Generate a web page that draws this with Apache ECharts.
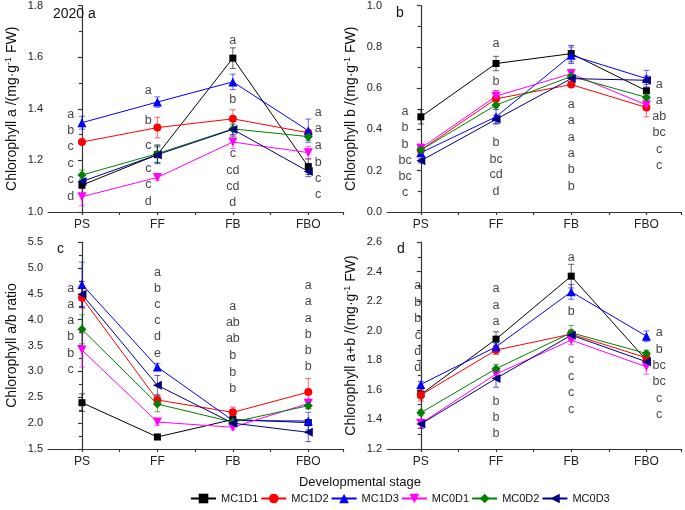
<!DOCTYPE html>
<html><head><meta charset="utf-8">
<script src="https://cdn.jsdelivr.net/npm/echarts@6/dist/echarts.min.js"></script>
<style>html,body{margin:0;padding:0;background:#fff}#c{width:685px;height:510px}</style>
</head><body><div id="c"></div><script>
const stages = ['PS', 'FF', 'FB', 'FBO'];
const seriesNames = ['MC1D1', 'MC1D2', 'MC1D3', 'MC0D1', 'MC0D2', 'MC0D3'];

// Panel a: Chlorophyll a (rows = series, cols = stages)
const chlA = [
  [1.104, 1.222, 1.596, 1.176],
  [1.271, 1.327, 1.361, 1.307],
  [1.346, 1.426, 1.504, 1.315],
  [1.059, 1.134, 1.271, 1.230],
  [1.143, 1.226, 1.322, 1.292],
  [1.118, 1.222, 1.320, 1.157]
];
const chlAErr = [
  [0.01, 0.03, 0.04, 0.03],
  [0.01, 0.04, 0.035, 0.01],
  [0.025, 0.02, 0.03, 0.045],
  [0.035, 0.01, 0.025, 0.025],
  [0.02, 0.035, 0.03, 0.015],
  [0.01, 0.035, 0.02, 0.02]
];
// Panel b: Chlorophyll b
const chlB = [
  [0.461, 0.719, 0.767, 0.587],
  [0.300, 0.548, 0.617, 0.506],
  [0.287, 0.461, 0.759, 0.646],
  [0.309, 0.561, 0.670, 0.518],
  [0.300, 0.518, 0.657, 0.555],
  [0.248, 0.449, 0.646, 0.638]
];
const chlBErr = [
  [0.035, 0.035, 0.04, 0.01],
  [0.01, 0.04, 0.01, 0.045],
  [0.015, 0.035, 0.04, 0.04],
  [0.02, 0.025, 0.02, 0.02],
  [0.01, 0.02, 0.035, 0.01],
  [0.01, 0.02, 0.02, 0.02]
];
// Panel c: Chlorophyll a/b ratio
const ratioAB = [
  [2.395, 1.732, 2.07, 2.01],
  [4.423, 2.447, 2.208, 2.60],
  [4.681, 3.084, 2.05, 2.04],
  [3.412, 2.022, 1.92, 2.38],
  [3.812, 2.369, 2.02, 2.337],
  [4.488, 2.730, 2.00, 1.822]
];
const ratioABErr = [
  [0.17, 0.05, 0.08, 0.05],
  [0.2, 0.1, 0.1, 0.26],
  [0.43, 0.07, 0.1, 0.17],
  [0.33, 0.07, 0.05, 0.1],
  [0.28, 0.15, 0.05, 0.06],
  [0.25, 0.19, 0.05, 0.18]
];
// Panel d: Chlorophyll a+b
const chlAB = [
  [1.569, 1.943, 2.369, 1.801],
  [1.565, 1.869, 1.977, 1.817],
  [1.637, 1.891, 2.263, 1.963],
  [1.373, 1.707, 1.936, 1.756],
  [1.445, 1.743, 1.986, 1.846],
  [1.369, 1.677, 1.970, 1.790]
];
const chlABErr = [
  [0.03, 0.05, 0.08, 0.03],
  [0.04, 0.03, 0.03, 0.03],
  [0.02, 0.02, 0.05, 0.035],
  [0.03, 0.03, 0.03, 0.05],
  [0.02, 0.03, 0.05, 0.02],
  [0.03, 0.06, 0.03, 0.02]
];

// Significance letters per stage (top to bottom) and their vertical positions
const lettersA = [['a','b','c','c','c','d'], ['a','b','c','c','c','d'], ['a','b','c','cd','cd','d'], ['a','a','a','b','c','c']];
const lettersAy = [[1.376,1.314,1.252,1.189,1.125,1.061], [1.472,1.356,1.257,1.170,1.105,1.041], [1.665,1.436,1.225,1.161,1.099,1.037], [1.385,1.322,1.257,1.193,1.131,1.069]];
const lettersB = [['a','b','b','bc','bc','c'], ['a','b','b','bc','cd','d'], ['a','a','a','a','b','b'], ['a','a','ab','bc','c','c']];
const lettersBy = [[0.486,0.408,0.328,0.248,0.170,0.095], [0.815,0.633,0.336,0.256,0.180,0.100], [0.521,0.442,0.362,0.281,0.204,0.124], [0.619,0.542,0.461,0.384,0.304,0.225]];
const lettersC = [['a','a','a','b','b','c'], ['a','b','c','c','d','e'], ['a','ab','ab','b','b','b'], ['a','a','a','b','b','b']];
const lettersCy = [[4.604,4.295,3.973,3.664,3.348,3.026], [4.913,4.604,4.295,3.973,3.664,3.348], [4.249,3.940,3.625,3.303,2.981,2.666], [4.655,4.346,4.024,3.702,3.393,3.084]];
const lettersD = [['a','b','b','c','d','d'], ['a','a','a','b','b','b'], ['a','b','c','c','c','c'], ['a','b','bc','bc','c','c']];
const lettersDy = [[2.304,2.193,2.081,1.970,1.858,1.750], [2.286,2.173,2.065,1.524,1.414,1.306], [2.495,2.128,1.806,1.693,1.583,1.470], [1.986,1.876,1.765,1.655,1.542,1.434]];

const FONT = '"Liberation Sans", Arial, sans-serif';
const colors = ['#000000', '#ff0000', '#0000ff', '#ff00ff', '#008000', '#000080'];
const symbols = ['rect', 'circle', 'triangle', 'triangle', 'diamond', 'triangle'];
const symbolRot = [0, 0, 0, 180, 0, 90];
const symbolSizes = [7, 8, 9, 9, 9, 9];

const panels = [
  { vals: chlA, errs: chlAErr, letters: lettersA, ly: lettersAy, dx: [-0.15, -0.12, 0, 0.13],
    min: 1.0, max: 1.8, interval: 0.2, name: '{n|Chlorophyll a /(mg·g}{s|-1}{n| FW)}' },
  { vals: chlB, errs: chlBErr, letters: lettersB, ly: lettersBy, dx: [-0.21, 0, 0, 0.17],
    min: 0, max: 1.0, interval: 0.2, name: '{n|Chlorophyll b /(mg·g}{s|-1}{n| FW)}' },
  { vals: ratioAB, errs: ratioABErr, letters: lettersC, ly: lettersCy, dx: [-0.15, 0, 0, 0],
    min: 1.5, max: 5.5, interval: 0.5, name: '{n|Chlorophyll a/b ratio}' },
  { vals: chlAB, errs: chlABErr, letters: lettersD, ly: lettersDy, dx: [-0.04, 0, 0, 0.17],
    min: 1.2, max: 2.6, interval: 0.2, name: '{n|Chlorophyll a+b /(mg·g}{s|-1}{n| FW)}' }
];

const grids = [
  { left: 48, top: 5, width: 295, height: 207 },
  { left: 387, top: 5, width: 294, height: 207 },
  { left: 48, top: 242, width: 295, height: 207 },
  { left: 387, top: 242, width: 294, height: 207 }
];

const axisLineStyle = { color: '#333', width: 1.2 };
const xAxes = [], yAxes = [], series = [];

panels.forEach((p, k) => {
  xAxes.push({
    type: 'value', gridIndex: k, min: -0.45, max: 3.46,
    axisLine: { show: true, lineStyle: axisLineStyle },
    axisTick: { show: true, length: 3, lineStyle: axisLineStyle, customValues: [0, 0.5, 1, 1.5, 2, 2.5, 3, 3.46] },
    axisLabel: { customValues: [0, 1, 2, 3], formatter: v => stages[Math.round(v)] || '', fontSize: 12, color: '#222', fontFamily: FONT, margin: 7 },
    splitLine: { show: false }
  });
  yAxes.push({
    type: 'value', gridIndex: k, min: p.min, max: p.max, interval: p.interval,
    name: p.name, nameLocation: 'middle', nameGap: 27,
    nameTextStyle: {
      rich: {
        n: { fontSize: 14, color: '#111', fontFamily: FONT, lineHeight: 17 },
        s: { fontSize: 9, color: '#111', fontFamily: FONT, lineHeight: 9, verticalAlign: 'top' }
      }
    },
    axisLine: { show: true, lineStyle: axisLineStyle },
    axisTick: { show: true, length: 4, lineStyle: axisLineStyle },
    minorTick: { show: true, splitNumber: 2, length: 3, lineStyle: axisLineStyle },
    axisLabel: { fontSize: 11, color: '#222', fontFamily: FONT, margin: 5, formatter: v => v.toFixed(1) },
    splitLine: { show: false }
  });

  // lines with markers
  p.vals.forEach((row, s) => {
    series.push({
      type: 'line', name: seriesNames[s], xAxisIndex: k, yAxisIndex: k,
      data: row.map((v, i) => [i, v]),
      symbol: symbols[s], symbolSize: symbolSizes[s], symbolRotate: symbolRot[s],
      showAllSymbol: true,
      lineStyle: { color: colors[s], width: 1 },
      itemStyle: { color: colors[s] },
      z: 3, animation: false
    });
  });
  // error bars
  p.vals.forEach((row, s) => {
    const col = colors[s];
    series.push({
      type: 'custom', xAxisIndex: k, yAxisIndex: k,
      data: row.map((v, i) => [i, v - p.errs[s][i], v + p.errs[s][i]]),
      encode: { x: 0, y: [1, 2] },
      renderItem: (params, api) => {
        const x = api.value(0);
        const a = api.coord([x, api.value(1)]);
        const b = api.coord([x, api.value(2)]);
        const w = 3;
        const st = { stroke: col, lineWidth: 1, opacity: 0.6 };
        return { type: 'group', children: [
          { type: 'line', shape: { x1: a[0], y1: a[1], x2: b[0], y2: b[1] }, style: st },
          { type: 'line', shape: { x1: a[0] - w, y1: a[1], x2: a[0] + w, y2: a[1] }, style: st },
          { type: 'line', shape: { x1: b[0] - w, y1: b[1], x2: b[0] + w, y2: b[1] }, style: st }
        ] };
      },
      z: 2, silent: true, animation: false
    });
  });
  // significance letters
  const ld = [];
  p.letters.forEach((col, i) => col.forEach((t, j) => ld.push([i + p.dx[i], p.ly[i][j], t])));
  series.push({
    type: 'scatter', xAxisIndex: k, yAxisIndex: k, data: ld,
    symbol: 'circle', symbolSize: 1, itemStyle: { color: 'rgba(0,0,0,0)' },
    label: { show: true, position: 'inside', formatter: q => q.data[2], fontSize: 12.5, color: '#111', fontFamily: FONT },
    silent: true, z: 4, animation: false
  });
});

const chart = echarts.init(document.getElementById('c'), null, { renderer: 'canvas' });
chart.setOption({
  animation: false,
  backgroundColor: '#fff',
  title: [
    { text: '2020 a', left: 53, top: 7, padding: 0, textStyle: { fontSize: 14, fontWeight: 'normal', color: '#111', fontFamily: FONT } },
    { text: 'b', left: 396, top: 6, padding: 0, textStyle: { fontSize: 14, fontWeight: 'normal', color: '#111', fontFamily: FONT } },
    { text: 'c', left: 57, top: 242, padding: 0, textStyle: { fontSize: 14, fontWeight: 'normal', color: '#111', fontFamily: FONT } },
    { text: 'd', left: 397, top: 242, padding: 0, textStyle: { fontSize: 14, fontWeight: 'normal', color: '#111', fontFamily: FONT } }
  ],
  graphic: [{
    type: 'text', x: 360, y: 482,
    style: { text: 'Developmental stage', fontSize: 13, fill: '#111', font: '13px ' + FONT, textAlign: 'center', textVerticalAlign: 'middle' }
  }],
  legend: {
    data: seriesNames, left: 190, top: 493, padding: 0,
    itemWidth: 25, itemHeight: 12, itemGap: 2,
    textStyle: { fontSize: 11, color: '#111', fontFamily: FONT }
  },
  grid: grids,
  xAxis: xAxes,
  yAxis: yAxes,
  series: series
});
</script></body></html>
